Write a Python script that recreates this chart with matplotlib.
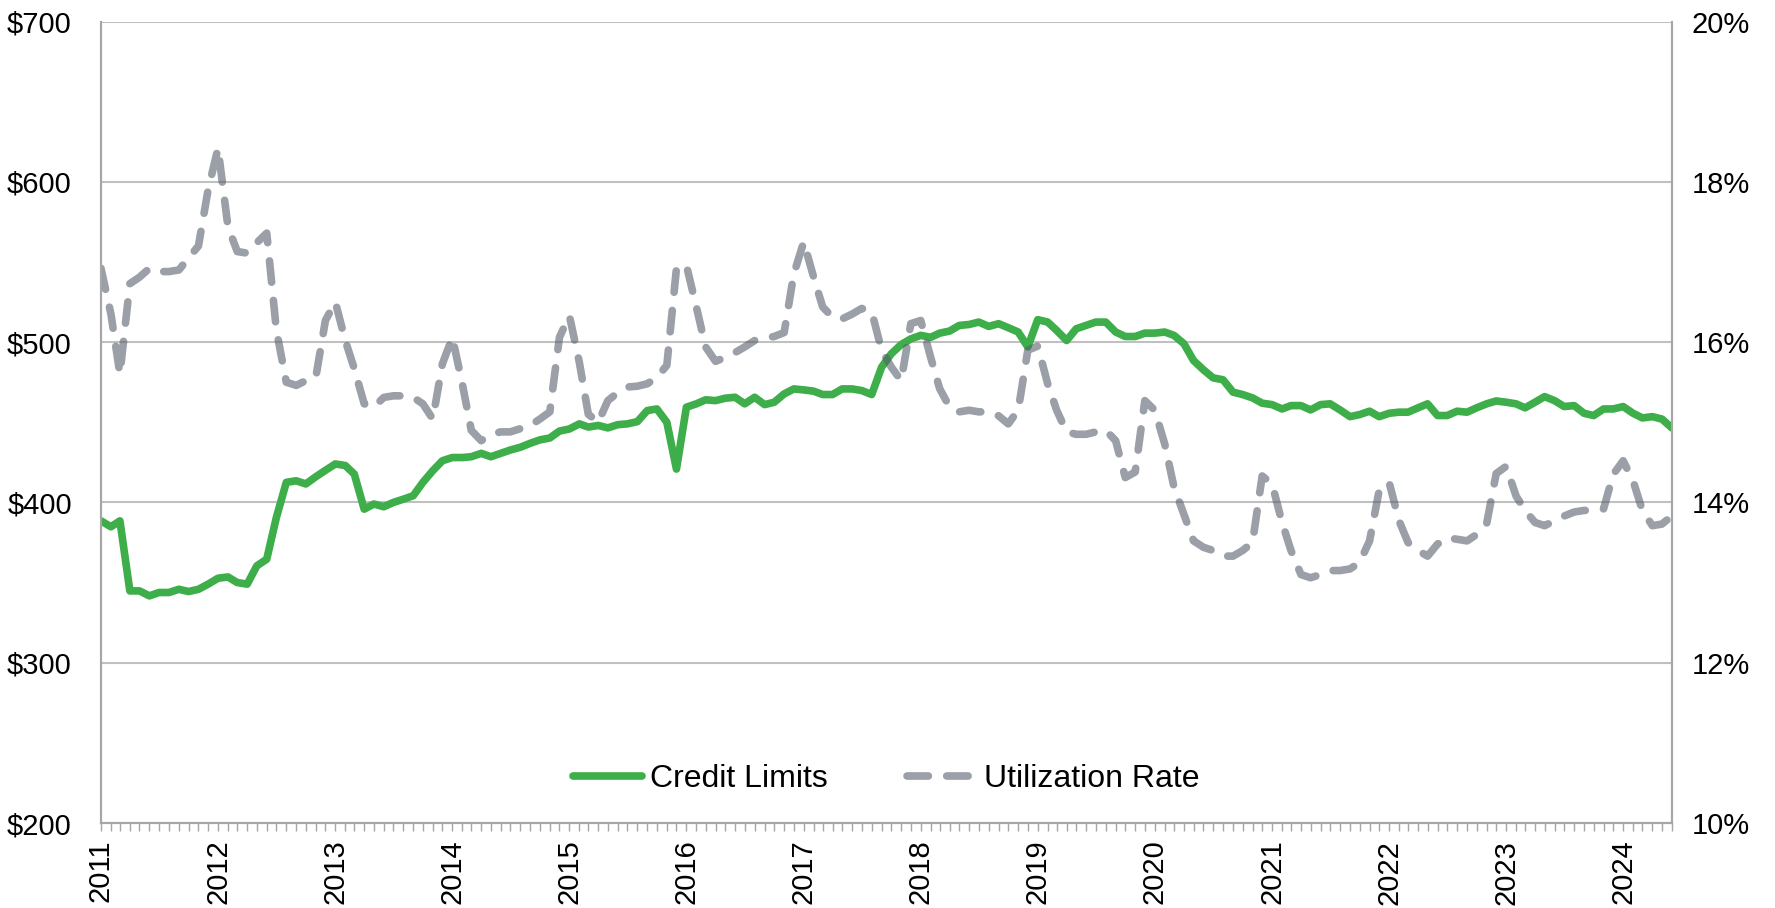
import numpy as np
import pandas as pd
import matplotlib
matplotlib.use("Agg")
import matplotlib.pyplot as plt
import matplotlib.dates as mdates
from matplotlib.ticker import FuncFormatter, MultipleLocator

plt.rcParams['font.family'] = ['Liberation Sans', 'DejaVu Sans']

# monthly values, Jan 2011 .. Jun 2024
credit_limits = [
    388.5, 384.8, 388.5, 344.8, 344.8, 341.7, 343.8, 343.8, 345.8, 344.4, 345.8, 349.0,
    352.7, 353.5, 350.0, 349.0, 360.4, 364.6, 390.6, 412.5, 413.5, 411.5, 416.0, 420.0,
    424.0, 423.0, 417.7, 395.8, 399.0, 397.3, 400.0, 402.0, 404.2, 412.5, 419.8, 426.0,
    428.0, 428.0, 428.5, 430.6, 428.5, 430.6, 432.7, 434.4, 436.9, 439.0, 440.2, 444.5,
    445.8, 449.0, 447.0, 448.0, 446.5, 448.5, 449.0, 450.4, 457.3, 458.3, 450.0, 420.8,
    459.4, 461.5, 464.0, 463.5, 465.0, 465.6, 461.5, 465.6, 461.0, 462.5, 467.7, 470.8,
    470.2, 469.4, 467.3, 467.3, 470.8, 470.8, 469.8, 467.3, 484.4, 492.7, 498.5, 502.0,
    504.2, 503.0, 505.6, 506.9, 510.4, 511.0, 512.5, 509.8, 511.5, 509.0, 506.3, 497.0,
    514.0, 512.5, 507.3, 501.0, 508.3, 510.4, 512.5, 512.5, 506.3, 503.5, 503.5, 505.6,
    505.6, 506.3, 504.2, 499.0, 488.5, 482.7, 477.7, 476.5, 468.8, 467.3, 465.2, 461.9,
    461.0, 458.3, 460.4, 460.4, 457.7, 461.0, 461.5, 457.7, 453.5, 454.8, 456.9, 453.5,
    455.6, 456.3, 456.3, 459.0, 461.5, 454.2, 454.2, 456.9, 456.3, 459.0, 461.5, 463.3,
    462.5, 461.5, 459.0, 462.5, 466.0, 463.5, 459.8, 460.4, 455.6, 454.2, 458.3, 458.3,
    459.8, 455.6, 452.7, 453.5, 452.0, 446.5,
]

utilization = [
    16.92, 16.35, 15.60, 16.73, 16.81, 16.92, 16.88, 16.88, 16.90, 17.05, 17.20, 17.90,
    18.42, 17.44, 17.13, 17.11, 17.24, 17.36, 16.15, 15.50, 15.46, 15.52, 15.56, 16.27,
    16.50, 16.02, 15.67, 15.23, 15.19, 15.31, 15.33, 15.33, 15.31, 15.23, 15.04, 15.73,
    16.06, 15.48, 14.90, 14.77, 14.85, 14.88, 14.88, 14.92, 14.96, 15.04, 15.13, 16.06,
    16.33, 15.75, 15.10, 15.00, 15.27, 15.37, 15.44, 15.45, 15.48, 15.56, 15.71, 16.92,
    16.96, 16.44, 15.94, 15.76, 15.81, 15.87, 15.94, 16.02, 16.05, 16.07, 16.12, 16.85,
    17.25, 16.81, 16.44, 16.31, 16.29, 16.35, 16.42, 16.38, 15.90, 15.69, 15.52, 16.23,
    16.27, 15.81, 15.42, 15.19, 15.13, 15.15, 15.13, 15.13, 15.08, 14.98, 15.15, 15.90,
    15.95, 15.48, 15.15, 14.88, 14.85, 14.85, 14.88, 14.90, 14.77, 14.31, 14.38, 15.27,
    15.15, 14.73, 14.19, 13.85, 13.52, 13.44, 13.40, 13.33, 13.33, 13.40, 13.50, 14.33,
    14.23, 13.75, 13.40, 13.10, 13.06, 13.10, 13.15, 13.15, 13.17, 13.25, 13.52, 14.15,
    14.25, 13.77, 13.50, 13.40, 13.33, 13.48, 13.56, 13.54, 13.52, 13.60, 13.73, 14.36,
    14.45, 14.08, 13.90, 13.75, 13.71, 13.77, 13.83, 13.88, 13.90, 13.90, 13.92, 14.35,
    14.52, 14.27, 13.90, 13.71, 13.73, 13.83,
]

months = pd.date_range('2011-01-01', periods=len(credit_limits), freq='MS')

green = '#3DAE49'
gray = '#58606C'
grid_c = '#C0C0C0'
spine_c = '#A6A6A6'
fs = 21

fig = plt.figure(figsize=(17.75, 9.08), dpi=100)
ax = fig.add_axes([0.0569, 0.0936, 0.885, 0.8827])
ax2 = ax.twinx()

l1, = ax.plot(months, credit_limits, color=green, lw=5.5, solid_capstyle='round',
              solid_joinstyle='round', label='Credit Limits', zorder=3)
l2, = ax2.plot(months, utilization, color=gray, alpha=0.6, lw=5.5, dashes=(2.8, 2.4),
               dash_capstyle='round', dash_joinstyle='round', label='Utilization Rate')

ax.set_xlim(months[0], months[-1])
ax.set_ylim(200, 700)
ax2.set_ylim(10, 20)
ax.yaxis.set_major_locator(MultipleLocator(100))
ax2.yaxis.set_major_locator(MultipleLocator(2))
ax.yaxis.set_major_formatter(FuncFormatter(lambda v, p: f'${v:.0f}'))
ax2.yaxis.set_major_formatter(FuncFormatter(lambda v, p: f'{v:.0f}%'))

ax.grid(axis='y', color=grid_c, lw=1.5)
ax.set_axisbelow(True)

ax.xaxis.set_major_locator(mdates.YearLocator())
ax.xaxis.set_major_formatter(mdates.DateFormatter('%Y'))
ax.xaxis.set_minor_locator(mdates.MonthLocator())
ax.tick_params(axis='x', which='both', direction='out', length=6, width=1,
               color=spine_c, labelsize=fs, rotation=90, pad=6)
ax.tick_params(axis='y', length=0, labelsize=fs, pad=21)
ax2.tick_params(axis='y', length=0, labelsize=fs, pad=14)

for a in (ax, ax2):
    a.spines['top'].set_visible(False)
    for s in ('left', 'right', 'bottom'):
        a.spines[s].set_color(spine_c)
        a.spines[s].set_linewidth(1.5)

ax.legend([l1, l2], ['Credit Limits', 'Utilization Rate'], loc='lower center',
          bbox_to_anchor=(0.5, 0.0), ncol=2, frameon=False, fontsize=23,
          handlelength=2.15, handletextpad=0.25, columnspacing=2.5)

fig.savefig('out.png', dpi=100)
